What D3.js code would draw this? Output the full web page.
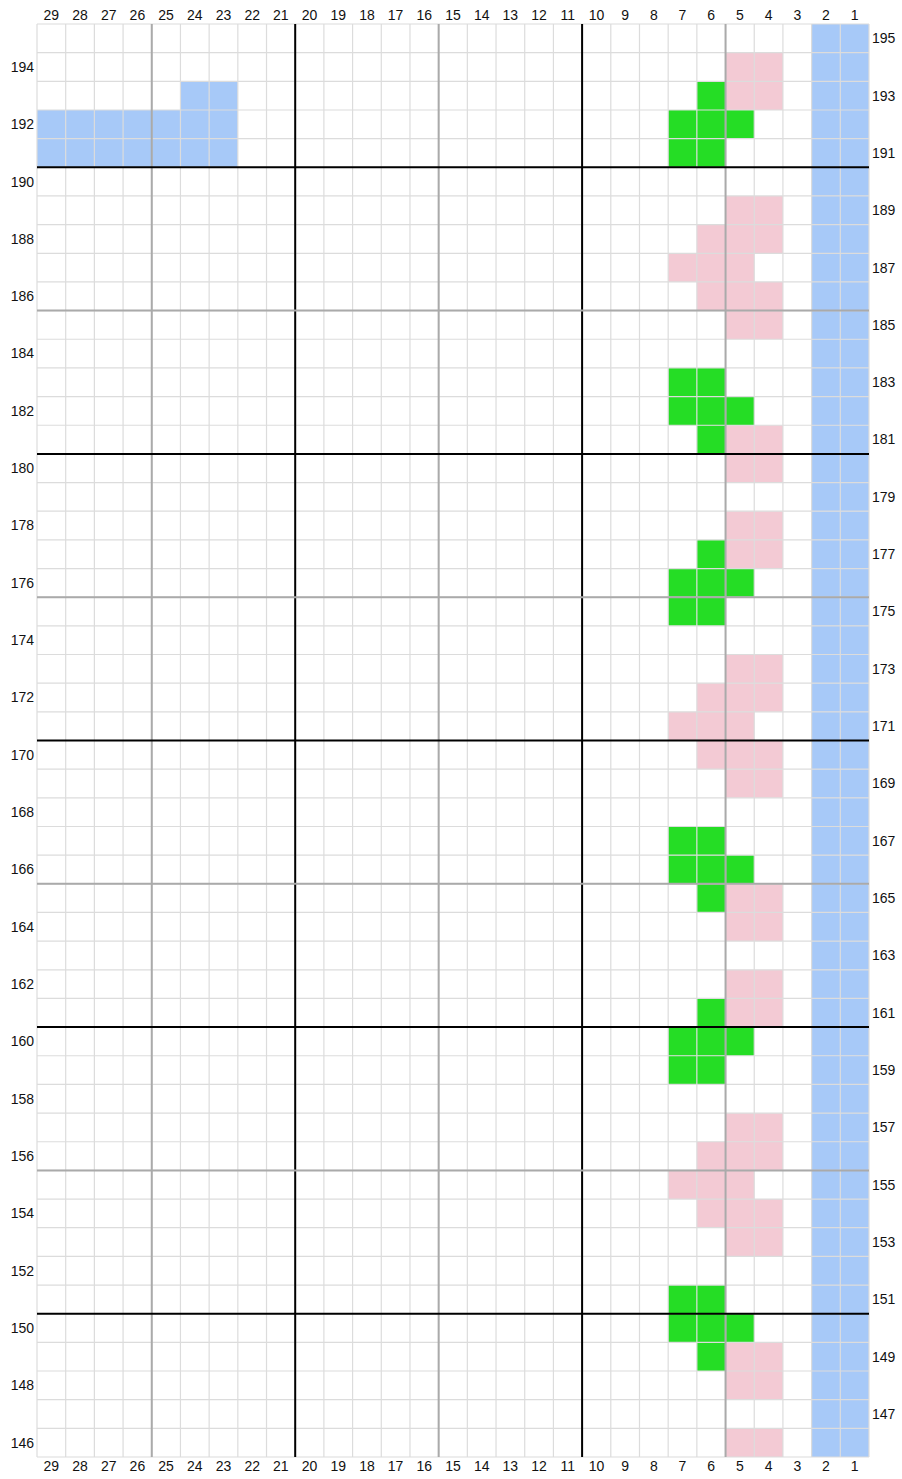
<!DOCTYPE html>
<html>
<head>
<meta charset="utf-8">
<script src="https://cdn.jsdelivr.net/npm/d3@7"></script>
<style>
  body { margin: 0; background: #fff; }
  text { font-family: "Liberation Sans", Arial, sans-serif; font-size: 14px; fill: #111; }
</style>
</head>
<body>
<div id="chart"></div>
<script>
// columns run 29 -> 1 left to right, rows 195 -> 146 top to bottom
var columns = d3.range(29, 0, -1);
var rows = d3.range(195, 145, -1);

// coloured cells: [row, [columns]]
var blueCells = [
  [193, [24, 23]],
  [192, [29, 28, 27, 26, 25, 24, 23]],
  [191, [29, 28, 27, 26, 25, 24, 23]]
];
var blueStripe = [2, 1]; // every row

var greenCells = [
  [193, [6]], [192, [7, 6, 5]], [191, [7, 6]],
  [183, [7, 6]], [182, [7, 6, 5]], [181, [6]],
  [177, [6]], [176, [7, 6, 5]], [175, [7, 6]],
  [167, [7, 6]], [166, [7, 6, 5]], [165, [6]],
  [161, [6]], [160, [7, 6, 5]], [159, [7, 6]],
  [151, [7, 6]], [150, [7, 6, 5]], [149, [6]]
];

var pinkCells = [
  [194, [5, 4]], [193, [5, 4]],
  [189, [5, 4]], [188, [6, 5, 4]], [187, [7, 6, 5]], [186, [6, 5, 4]], [185, [5, 4]],
  [181, [5, 4]], [180, [5, 4]],
  [178, [5, 4]], [177, [5, 4]],
  [173, [5, 4]], [172, [6, 5, 4]], [171, [7, 6, 5]], [170, [6, 5, 4]], [169, [5, 4]],
  [165, [5, 4]], [164, [5, 4]],
  [162, [5, 4]], [161, [5, 4]],
  [157, [5, 4]], [156, [6, 5, 4]], [155, [7, 6, 5]], [154, [6, 5, 4]], [153, [5, 4]],
  [149, [5, 4]], [148, [5, 4]],
  [146, [5, 4]]
];

var colors = { blue: "#a7c9f8", green: "#25dd25", pink: "#f3cad4" };

var width = 902, height = 1479;
var margin = { top: 24, right: 33, bottom: 22, left: 37 };

var svg = d3.select("#chart").append("svg")
    .attr("width", width)
    .attr("height", height);

var x = d3.scaleBand()
    .domain(columns)
    .range([margin.left, width - margin.right]);

var y = d3.scaleBand()
    .domain(rows)
    .range([margin.top, height - margin.bottom]);

function expand(list, color) {
  var out = [];
  list.forEach(function(d) {
    d[1].forEach(function(c) { out.push({ row: d[0], col: c, color: color }); });
  });
  return out;
}

var cells = []
  .concat(expand(rows.map(function(r) { return [r, blueStripe]; }), colors.blue))
  .concat(expand(blueCells, colors.blue))
  .concat(expand(greenCells, colors.green))
  .concat(expand(pinkCells, colors.pink));

svg.append("g").selectAll("rect")
    .data(cells)
    .enter()
    .append("rect")
    .attr("x", function(d) { return x(d.col); })
    .attr("y", function(d) { return y(d.row); })
    .attr("width", x.bandwidth())
    .attr("height", y.bandwidth())
    .attr("fill", function(d) { return d.color; });

// thin grid
var grid = svg.append("g")
    .attr("stroke", "#dcdcdc")
    .attr("stroke-width", 1.2);

grid.selectAll(".v")
    .data(columns.concat([0]))
    .enter().append("line")
    .attr("x1", function(d) { return d === 0 ? x(1) + x.bandwidth() : x(d); })
    .attr("x2", function(d) { return d === 0 ? x(1) + x.bandwidth() : x(d); })
    .attr("y1", margin.top)
    .attr("y2", height - margin.bottom);

grid.selectAll(".h")
    .data(rows.concat([0]))
    .enter().append("line")
    .attr("y1", function(d) { return d === 0 ? y(146) + y.bandwidth() : y(d); })
    .attr("y2", function(d) { return d === 0 ? y(146) + y.bandwidth() : y(d); })
    .attr("x1", margin.left)
    .attr("x2", width - margin.right);

// heavy lines every 5 (grey) and 10 (black)
var vMajor = columns.filter(function(c) { return c % 5 === 0; });
svg.append("g").selectAll("line")
    .data(vMajor)
    .enter().append("line")
    .attr("x1", function(d) { return x(d); })
    .attr("x2", function(d) { return x(d); })
    .attr("y1", margin.top)
    .attr("y2", height - margin.bottom)
    .attr("stroke", function(d) { return d % 10 === 0 ? "#000" : "#aaa"; })
    .attr("stroke-width", 2);

var hMajor = rows.filter(function(r) { return r % 5 === 0 && r !== 195; });
svg.append("g").selectAll("line")
    .data(hMajor)
    .enter().append("line")
    .attr("y1", function(d) { return y(d); })
    .attr("y2", function(d) { return y(d); })
    .attr("x1", margin.left)
    .attr("x2", width - margin.right)
    .attr("stroke", function(d) { return d % 10 === 0 ? "#000" : "#aaa"; })
    .attr("stroke-width", 2);

// column labels top and bottom
["top", "bottom"].forEach(function(side) {
  svg.append("g").selectAll("text")
      .data(columns)
      .enter().append("text")
      .attr("x", function(d) { return x(d) + x.bandwidth() / 2; })
      .attr("y", side === "top" ? 15 : height - 13)
      .attr("dy", "0.35em")
      .attr("text-anchor", "middle")
      .text(function(d) { return d; });
});

// row labels: even on left, odd on right
svg.append("g").selectAll("text")
    .data(rows)
    .enter().append("text")
    .attr("x", function(d) { return d % 2 === 0 ? margin.left - 3 : width - margin.right + 3; })
    .attr("y", function(d) { return y(d) + y.bandwidth() / 2; })
    .attr("dy", "0.35em")
    .attr("text-anchor", function(d) { return d % 2 === 0 ? "end" : "start"; })
    .text(function(d) { return d; });
</script>
</body>
</html>
